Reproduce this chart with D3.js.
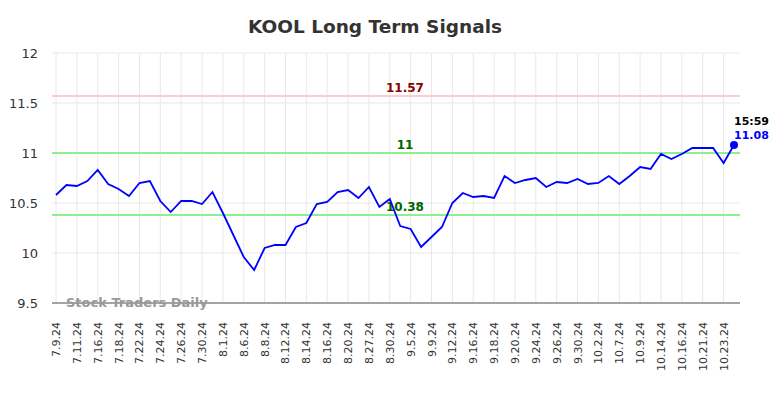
<!DOCTYPE html>
<html>
<head>
<meta charset="utf-8">
<script src="https://cdn.jsdelivr.net/npm/d3@7"></script>
<style>
body { margin: 0; background: #fff; }
text { font-family: "DejaVu Sans", sans-serif; }
</style>
</head>
<body>
<div id="chart"></div>
<script>
// data
var dates = ["7.9.24","7.10.24","7.11.24","7.15.24","7.16.24","7.17.24","7.18.24","7.19.24",
  "7.22.24","7.23.24","7.24.24","7.25.24","7.26.24","7.29.24","7.30.24","7.31.24",
  "8.1.24","8.5.24","8.6.24","8.7.24","8.8.24","8.9.24","8.12.24","8.13.24",
  "8.14.24","8.15.24","8.16.24","8.19.24","8.20.24","8.26.24","8.27.24","8.29.24",
  "8.30.24","9.4.24","9.5.24","9.6.24","9.9.24","9.11.24","9.12.24","9.13.24",
  "9.16.24","9.17.24","9.18.24","9.19.24","9.20.24","9.23.24","9.24.24","9.25.24",
  "9.26.24","9.27.24","9.30.24","10.1.24","10.2.24","10.4.24","10.7.24","10.8.24",
  "10.9.24","10.11.24","10.14.24","10.15.24","10.16.24","10.18.24","10.21.24","10.22.24",
  "10.23.24","10.24.24"];
var prices = [10.58,10.68,10.67,10.72,10.83,10.69,10.64,10.57,
  10.70,10.72,10.52,10.41,10.52,10.52,10.49,10.61,
  10.40,10.18,9.96,9.83,10.05,10.08,10.08,10.26,
  10.30,10.49,10.51,10.61,10.63,10.55,10.66,10.46,
  10.54,10.27,10.24,10.06,10.16,10.26,10.50,10.60,
  10.56,10.57,10.55,10.77,10.70,10.73,10.75,10.66,
  10.71,10.70,10.74,10.69,10.70,10.77,10.69,10.77,
  10.86,10.84,10.99,10.94,10.99,11.05,11.05,11.05,
  10.90,11.08];
var yTicks = [9.5, 10, 10.5, 11, 11.5, 12];
var levels = [11.57, 11, 10.38];
var levelColors = ["#ffcccc", "#90ee90", "#90ee90"];
var levelTextColors = ["#8b0000", "#006400", "#006400"];
var lastTime = "15:59";

var W = 784, H = 398;
var margin = {top: 53, right: 44, bottom: 95, left: 52};

var svg = d3.select("#chart").append("svg")
  .attr("width", W).attr("height", H);

var x = d3.scaleLinear()
  .domain([0, prices.length - 1])
  .range([56, 734]);

var y = d3.scaleLinear()
  .domain([9.5, 12])
  .range([H - margin.bottom, margin.top]);

var left = margin.left, right = W - margin.right;

// title
svg.append("text")
  .attr("x", 375).attr("y", 33)
  .attr("text-anchor", "middle")
  .style("font-size", "18.5px").style("font-weight", "bold")
  .style("fill", "#333")
  .text("KOOL Long Term Signals");

// grid
var labelIdx = d3.range(0, prices.length, 2);
svg.selectAll(".vgrid").data(labelIdx).enter().append("line")
  .attr("x1", function(d) { return x(d); }).attr("x2", function(d) { return x(d); })
  .attr("y1", y(12)).attr("y2", y(9.5))
  .style("stroke", "#e8e8e8").style("stroke-width", 1);

svg.selectAll(".hgrid").data(yTicks).enter().append("line")
  .attr("x1", left).attr("x2", right)
  .attr("y1", function(d) { return y(d); }).attr("y2", function(d) { return y(d); })
  .style("stroke", "#e8e8e8").style("stroke-width", 1);

// y axis labels
svg.selectAll(".ylab").data(yTicks).enter().append("text")
  .attr("x", 38).attr("y", function(d) { return y(d) + 5; })
  .attr("text-anchor", "end")
  .style("font-size", "13px").style("fill", "#333")
  .text(function(d) { return d; });

// x axis line
svg.append("line")
  .attr("x1", left).attr("x2", right)
  .attr("y1", y(9.5)).attr("y2", y(9.5))
  .style("stroke", "#555").style("stroke-width", 1);

// x labels
svg.selectAll(".xlab").data(labelIdx).enter().append("text")
  .attr("transform", function(d) { return "translate(" + (x(d) + 4) + ",322) rotate(-90)"; })
  .attr("text-anchor", "end")
  .style("font-size", "11px").style("fill", "#333")
  .text(function(d) { return dates[d]; });

// signal levels
svg.selectAll(".level").data(levels).enter().append("line")
  .attr("x1", left).attr("x2", right)
  .attr("y1", function(d) { return y(d); }).attr("y2", function(d) { return y(d); })
  .style("stroke", function(d, i) { return levelColors[i]; })
  .style("stroke-width", 2);

svg.selectAll(".levelText").data(levels).enter().append("text")
  .attr("x", 405).attr("y", function(d) { return y(d) - 4; })
  .attr("text-anchor", "middle")
  .style("font-size", "12px").style("font-weight", "bold")
  .style("fill", function(d, i) { return levelTextColors[i]; })
  .text(function(d) { return d; });

// watermark
svg.append("text")
  .attr("x", 66).attr("y", 307)
  .style("font-size", "13px").style("font-weight", "bold")
  .style("fill", "#999")
  .text("Stock Traders Daily");

// price line
var line = d3.line()
  .x(function(d, i) { return x(i); })
  .y(function(d) { return y(d); });

svg.append("path")
  .datum(prices)
  .attr("d", line)
  .style("fill", "none")
  .style("stroke", "#0000ff")
  .style("stroke-width", 1.8);

var last = prices.length - 1;
svg.append("circle")
  .attr("cx", x(last)).attr("cy", y(prices[last]))
  .attr("r", 4)
  .style("fill", "#0000ff");

svg.append("text")
  .attr("x", x(last)).attr("y", y(prices[last]) - 20)
  .style("font-size", "11px").style("font-weight", "bold")
  .style("fill", "#000")
  .text(lastTime);

svg.append("text")
  .attr("x", x(last)).attr("y", y(prices[last]) - 6)
  .style("font-size", "11px").style("font-weight", "bold")
  .style("fill", "#0000ff")
  .text(prices[last].toFixed(2));
</script>
</body>
</html>
